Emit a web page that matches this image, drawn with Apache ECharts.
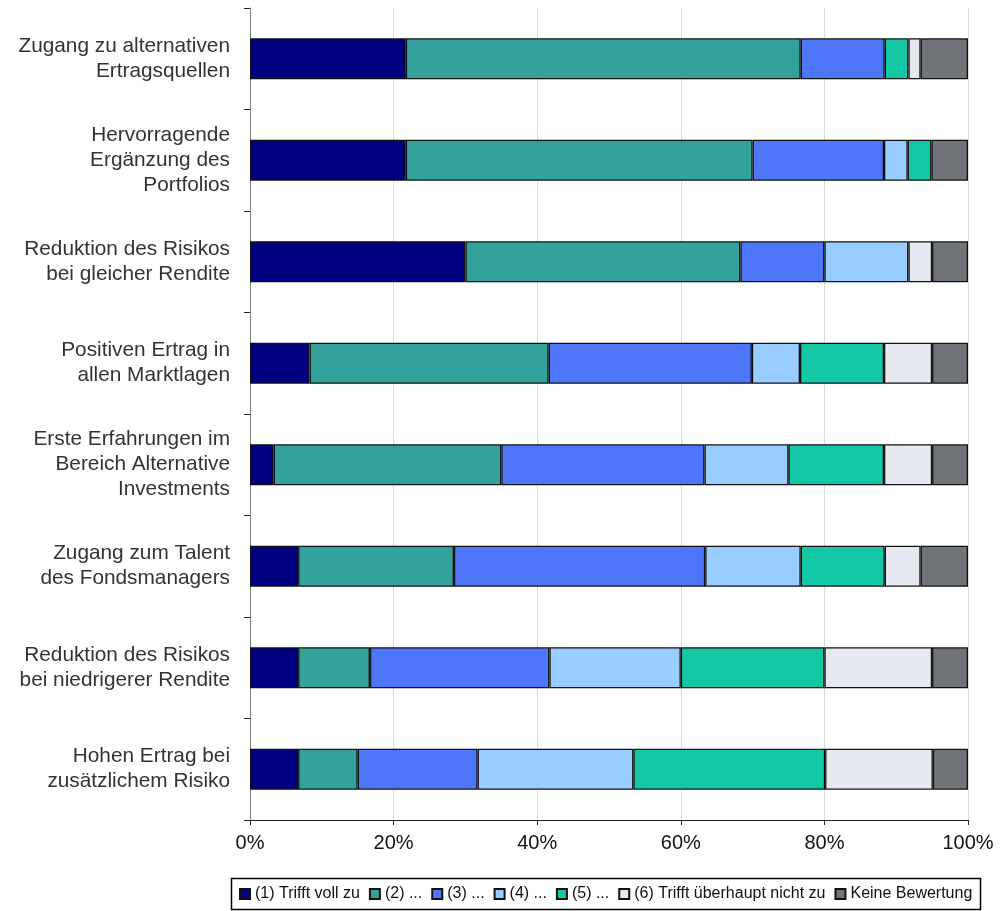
<!DOCTYPE html>
<html>
<head>
<meta charset="utf-8">
<script src="https://cdn.jsdelivr.net/npm/echarts@6/dist/echarts.min.js"></script>
<style>
  html, body { margin: 0; padding: 0; background: #fff; }
  #chart { width: 1001px; height: 911px; }
</style>
</head>
<body>
<div id="chart"></div>
<script>
// Survey statements (top to bottom)
const categories = [
  'Zugang zu alternativen\nErtragsquellen',
  'Hervorragende\nErgänzung des\nPortfolios',
  'Reduktion des Risikos\nbei gleicher Rendite',
  'Positiven Ertrag in\nallen Marktlagen',
  'Erste Erfahrungen im\nBereich Alternative\nInvestments',
  'Zugang zum Talent\ndes Fondsmanagers',
  'Reduktion des Risikos\nbei niedrigerer Rendite',
  'Hohen Ertrag bei\nzusätzlichem Risiko'
];

// Answer shares in percent, one array per answer level
const trifftVollZu   = [21.7, 21.7, 30.0,  8.3,  3.3,  6.7,  6.7,  6.7];
const stufe2         = [55.0, 48.3, 38.3, 33.3, 31.7, 21.7, 10.0,  8.3];
const stufe3         = [11.7, 18.3, 11.7, 28.3, 28.3, 35.0, 25.0, 16.7];
const stufe4         = [ 0.0,  3.3, 11.7,  6.7, 11.7, 13.3, 18.3, 21.7];
const stufe5         = [ 3.3,  3.3,  0.0, 11.7, 13.3, 11.7, 20.0, 26.7];
const trifftNichtZu  = [ 1.7,  0.0,  3.3,  6.7,  6.7,  5.0, 15.0, 15.0];
const keineBewertung = [ 6.6,  5.1,  5.0,  5.0,  5.0,  6.6,  5.0,  4.9];

const seriesNames = [
  '(1) Trifft voll zu', '(2) ...', '(3) ...', '(4) ...', '(5) ...',
  '(6) Trifft überhaupt nicht zu', 'Keine Bewertung'
];
const seriesValues = [trifftVollZu, stufe2, stufe3, stufe4, stufe5, trifftNichtZu, keineBewertung];
const seriesColors = ['#000080', '#33A29A', '#4D76F8', '#99CCFF', '#14C8A6', '#E6E9F1', '#707377'];

const xTicks = [0, 20, 40, 60, 80, 100];

const FONT = '"Liberation Sans", Arial, sans-serif';

const chart = echarts.init(document.getElementById('chart'), null, { renderer: 'canvas' });

chart.setOption({
  animation: false,
  backgroundColor: '#ffffff',
  grid: { left: 250, right: 33, top: 8, bottom: 91, containLabel: false },
  xAxis: {
    type: 'value',
    min: xTicks[0],
    max: xTicks[xTicks.length - 1],
    interval: xTicks[1] - xTicks[0],
    axisLine: { show: true, lineStyle: { color: '#222', width: 1 } },
    axisTick: { show: true, length: 5, lineStyle: { color: '#222' } },
    splitLine: { show: true, lineStyle: { color: '#d9d9d9', width: 1 } },
    axisLabel: {
      formatter: '{value}%',
      fontFamily: FONT, fontSize: 20, color: '#111', margin: 13
    }
  },
  yAxis: {
    type: 'category',
    inverse: true,
    data: categories,
    axisLine: { show: true, lineStyle: { color: '#7f7f7f', width: 1 } },
    axisTick: { show: true, length: 6, lineStyle: { color: '#222' } },
    axisLabel: {
      fontFamily: FONT, fontSize: 20.8, color: '#333', lineHeight: 25,
      margin: 20, align: 'right'
    }
  },
  legend: {
    left: 239,
    top: 886,
    itemWidth: 10,
    itemHeight: 10,
    itemGap: 9,
    icon: 'rect',
    padding: 0,
    textStyle: { fontFamily: FONT, fontSize: 16, color: '#111' },
    data: seriesNames
  },
  graphic: [{
    type: 'rect',
    shape: { x: 231.5, y: 878.5, width: 749, height: 31 },
    style: { fill: 'none', stroke: '#000', lineWidth: 1.5 },
    silent: true
  }],
  series: seriesNames.map((name, i) => ({
    name: name,
    type: 'bar',
    stack: 'total',
    barWidth: 41,
    itemStyle: { color: seriesColors[i], borderColor: '#111', borderWidth: 1.3 },
    data: seriesValues[i].map(v => (v === 0 ? null : v))
  }))
});
</script>
</body>
</html>
